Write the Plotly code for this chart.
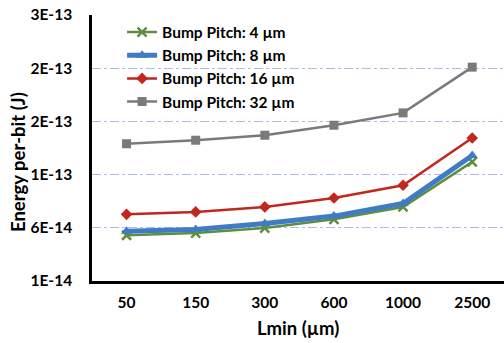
import plotly.graph_objects as go

categories = ["50", "150", "300", "600", "1000", "2500"]
series_names = ["Bump Pitch: 4 µm", "Bump Pitch: 8 µm", "Bump Pitch: 16 µm", "Bump Pitch: 32 µm"]
pitch4 = [5.3e-14, 5.5e-14, 5.98e-14, 6.8e-14, 7.96e-14, 1.22e-13]
pitch8 = [5.67e-14, 5.83e-14, 6.4e-14, 7.1e-14, 8.28e-14, 1.28e-13]
pitch16 = [7.27e-14, 7.49e-14, 7.96e-14, 8.8e-14, 1.0e-13, 1.444e-13]
pitch32 = [1.39e-13, 1.423e-13, 1.47e-13, 1.564e-13, 1.68e-13, 2.11e-13]
y_tickvals = [1e-14, 6e-14, 1.1e-13, 1.6e-13, 2.1e-13, 2.6e-13]
y_ticktext = ["1E-14", "6E-14", "1E-13", "2E-13", "2E-13", "3E-13"]
x_title = "Lmin (µm)"
y_title = "Energy per-bit (J)"

styles = [
    dict(color="#5E8E3E", width=2.5, symbol="x-thin", size=9, mline=2.5),
    dict(color="#3F7CC4", width=5, symbol="triangle-up", size=10, mline=0),
    dict(color="#C0271D", width=2.5, symbol="diamond", size=9, mline=0),
    dict(color="#7A7A7A", width=2.5, symbol="square", size=9, mline=0),
]

fig = go.Figure()
for name, vals, st in zip(series_names, [pitch4, pitch8, pitch16, pitch32], styles):
    fig.add_trace(go.Scatter(
        x=categories, y=vals, name=name, mode="lines+markers",
        line=dict(color=st["color"], width=st["width"]),
        marker=dict(symbol=st["symbol"], size=st["size"], color=st["color"],
                    line=dict(color=st["color"], width=st["mline"])),
    ))

font_family = "Lato, 'Open Sans', sans-serif"
W, H = 504, 343
ML, MR, MT, MB = 92, 0, 15, 62
fig.update_layout(
    width=W, height=H,
    margin=dict(l=ML, r=MR, t=MT, b=MB, autoexpand=False),
    plot_bgcolor="white", paper_bgcolor="white",
    font=dict(family=font_family, size=15, color="black", weight="bold"),
    legend=dict(x=0.073, y=0.998, xanchor="left", yanchor="top",
                bgcolor="rgba(0,0,0,0)", font=dict(size=15.5, weight="bold"),
                itemwidth=30),
    showlegend=True,
)
fig.update_xaxes(
    type="category", range=[-0.5, 5.46], automargin=False,
    showline=True, linecolor="black", linewidth=2.5,
    showgrid=False, ticks="", tickfont=dict(size=15.5, weight="bold"),
    ticklabelstandoff=6,
)
fig.update_yaxes(
    range=[1e-14, 2.6e-13], automargin=False,
    tickvals=y_tickvals, ticktext=y_ticktext,
    showline=True, linecolor="black", linewidth=2.5,
    showgrid=True, gridcolor="#A9BDE8", gridwidth=1, griddash="dashdot",
    zeroline=False, ticks="", ticklabelstandoff=14,
    tickfont=dict(size=15.5, weight="bold"),
)
plot_w = W - ML - MR
plot_h = H - MT - MB
fig.add_annotation(text=x_title, xref="paper", yref="paper",
                   x=0.5, y=-(328 - (H - MB)) / plot_h,
                   xanchor="center", yanchor="middle", showarrow=False,
                   font=dict(size=18.5, weight="bold"))
fig.add_annotation(text=y_title, xref="paper", yref="paper",
                   x=-(ML - 18) / plot_w, y=(H - MB - 162) / plot_h,
                   xanchor="center", yanchor="middle", showarrow=False, textangle=-90,
                   font=dict(size=18.5, weight="bold"))
fig.write_html("out.html", config={"displayModeBar": False},
               post_script="document.body.style.margin='0';document.body.style.overflow='hidden';")
